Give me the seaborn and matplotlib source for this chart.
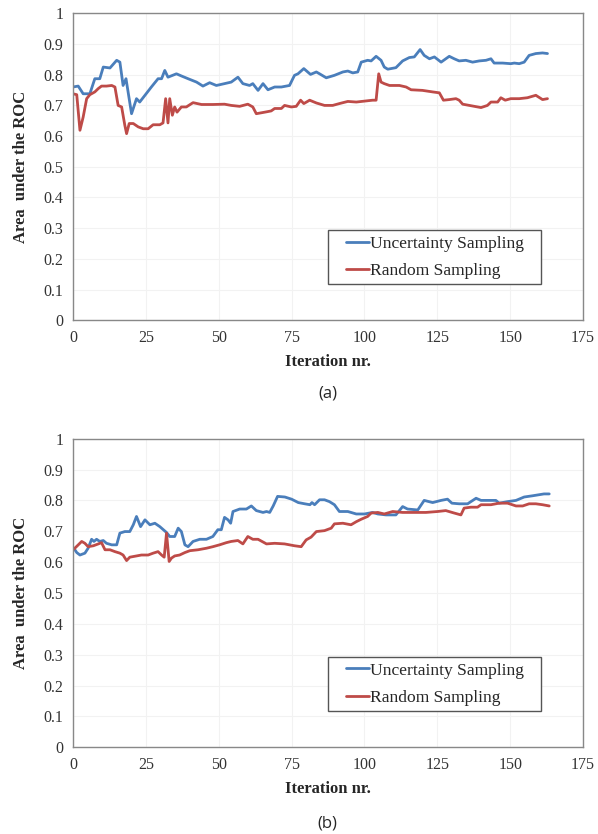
import pandas as pd
import matplotlib.pyplot as plt
import seaborn as sns
from matplotlib.patches import Rectangle

# (a) uncertainty sampling
a_unc_x = [0, 1.8, 3.5, 5.8, 7.5, 9.2, 10.4, 12.7, 15, 16.1, 17.2, 18.2, 20.1, 21.8, 22.9, 24.7,
           26.9, 29.2, 30.4, 31.5, 32.6, 35.5, 37.2, 39.5, 42.4, 44.6, 46.9, 49.2, 52, 54.3, 56.6,
           58.3, 60.6, 61.7, 63.5, 65.2, 66.9, 69.2, 71.5, 74.3, 76, 77.2, 79.2, 81.5, 83.5, 84.6,
           86.9, 89.7, 92.6, 94.3, 96, 97.7, 98.9, 101.1, 102.3, 104, 105.7, 106.8, 108, 110.8,
           113.1, 115.4, 117.1, 119.1, 120.5, 122.3, 124, 126.3, 129.1, 130.8, 132.5, 134.8, 137.1,
           139.4, 141.7, 143.4, 144.5, 147.4, 150.2, 151.4, 153.1, 154.8, 156.5, 158.8, 161.1, 162.8]
a_unc_y = [0.76, 0.763, 0.738, 0.738, 0.787, 0.787, 0.825, 0.822, 0.847, 0.841, 0.765, 0.787, 0.673,
           0.722, 0.711, 0.733, 0.76, 0.787, 0.787, 0.814, 0.792, 0.803, 0.796, 0.787, 0.776, 0.763,
           0.774, 0.765, 0.771, 0.776, 0.792, 0.771, 0.765, 0.771, 0.749, 0.771, 0.751, 0.76, 0.76,
           0.765, 0.798, 0.803, 0.82, 0.801, 0.809, 0.803, 0.79, 0.798, 0.809, 0.812, 0.806, 0.809,
           0.841, 0.847, 0.845, 0.86, 0.847, 0.825, 0.818, 0.823, 0.845, 0.856, 0.858, 0.882, 0.863,
           0.852, 0.858, 0.841, 0.86, 0.852, 0.845, 0.847, 0.841, 0.845, 0.847, 0.852, 0.838, 0.838,
           0.836, 0.838, 0.836, 0.841, 0.863, 0.869, 0.871, 0.869]

# (a) random sampling
a_rnd_x = [0, 1.3, 2.4, 3.5, 4.7, 5.8, 7.5, 8.7, 9.8, 11.5, 13.3, 14.4, 15.5, 16.7, 17.8, 18.4,
           19.3, 20.7, 22.4, 24.1, 25.8, 27.5, 29.8, 30.9, 31.8, 32.6, 33.2, 34.1, 34.9, 35.7, 37.2,
           38.9, 41.2, 44.1, 48, 52, 54.3, 57.2, 60, 61.7, 62.9, 65.8, 68, 69.2, 71.5, 72.6, 74.9,
           76.6, 78.1, 79.2, 81.2, 83.5, 86.3, 89.1, 91.4, 94.3, 97.2, 100, 102.8, 104, 104.9, 105.7,
           106.8, 108.6, 112, 114.3, 116, 119.9, 123.4, 125.7, 127.1, 129.1, 131.4, 132.5, 133.7,
           136, 137.7, 140, 142.2, 143.4, 145.7, 146.8, 148.3, 150.2, 153.1, 155.9, 158.8, 161.1, 162.8]
a_rnd_y = [0.738, 0.735, 0.619, 0.662, 0.722, 0.735, 0.744, 0.755, 0.763, 0.763, 0.765, 0.76, 0.7,
           0.695, 0.635, 0.608, 0.641, 0.641, 0.63, 0.624, 0.624, 0.637, 0.637, 0.643, 0.722, 0.643,
           0.722, 0.668, 0.695, 0.678, 0.695, 0.695, 0.709, 0.703, 0.703, 0.704, 0.7, 0.697, 0.704,
           0.695, 0.673, 0.678, 0.682, 0.69, 0.69, 0.7, 0.695, 0.697, 0.717, 0.706, 0.717, 0.708, 0.7,
           0.7, 0.706, 0.713, 0.711, 0.714, 0.717, 0.717, 0.803, 0.776, 0.771, 0.765, 0.765, 0.76,
           0.751, 0.749, 0.744, 0.741, 0.717, 0.719, 0.722, 0.717, 0.704, 0.7, 0.697, 0.693, 0.7,
           0.711, 0.711, 0.725, 0.717, 0.722, 0.722, 0.725, 0.733, 0.719, 0.722]

# (b) uncertainty sampling
b_unc_x = [0.3, 1.3, 2.4, 4.1, 5.2, 6.4, 7.2, 8.1, 9.2, 10.4, 11.5, 13.3, 15, 16.1, 17.8, 19.5,
           20.7, 21.8, 23.2, 24.7, 26.4, 28.1, 29.8, 32.1, 33.2, 34.9, 36.1, 37.2, 38.4, 39.5, 41.2,
           43.5, 45.8, 48, 49.7, 50.9, 52, 53.2, 54.1, 54.9, 57.2, 59.5, 61.2, 62.9, 65.2, 66.4,
           67.5, 68.7, 70.2, 72.7, 75, 77.3, 79.5, 81.3, 82, 82.9, 84.6, 86.3, 88, 89.7, 91.4, 94.3,
           97.2, 100, 102.8, 104.6, 107.4, 110.8, 113.1, 114.8, 118.3, 120.5, 123.4, 126.3, 128.5,
           130, 132.5, 135.4, 138.3, 140, 142.8, 145.1, 146.2, 149.1, 152, 154.8, 157.7, 161.6, 163.4]
b_unc_y = [0.645, 0.631, 0.623, 0.629, 0.645, 0.674, 0.667, 0.674, 0.667, 0.67, 0.661, 0.656, 0.656,
           0.694, 0.699, 0.699, 0.721, 0.748, 0.715, 0.737, 0.721, 0.726, 0.715, 0.696, 0.683, 0.683,
           0.71, 0.699, 0.656, 0.65, 0.667, 0.674, 0.674, 0.683, 0.705, 0.705, 0.745, 0.737, 0.726,
           0.764, 0.772, 0.772, 0.782, 0.767, 0.761, 0.764, 0.761, 0.782, 0.813, 0.811, 0.804, 0.793,
           0.789, 0.786, 0.793, 0.786, 0.802, 0.802, 0.796, 0.786, 0.764, 0.764, 0.756, 0.756, 0.761,
           0.756, 0.753, 0.753, 0.78, 0.772, 0.769, 0.8, 0.793, 0.8, 0.804, 0.791, 0.789, 0.789,
           0.807, 0.8, 0.8, 0.8, 0.791, 0.796, 0.8, 0.811, 0.815, 0.821, 0.821]

# (b) random sampling
b_rnd_x = [0.3, 1.5, 3, 4.1, 5.2, 7, 8.7, 9.8, 11, 12.7, 14.4, 16.1, 17.2, 18.4, 19.5, 21.8, 23.5,
           25.8, 27.5, 29.2, 30.4, 31.3, 32.1, 33, 33.8, 34.9, 36.6, 38.4, 40.1, 42.9, 45.8, 48,
           50.3, 52.6, 54.3, 56.6, 58.3, 60, 61.7, 63.5, 66.4, 69.2, 72.6, 76, 78.3, 80, 81.7, 83.5,
           86.3, 88.6, 89.7, 92.6, 95.4, 97.2, 98.9, 101.1, 102.3, 104.6, 106.8, 109.7, 113.1,
           116.5, 121.1, 125.1, 127.9, 130.8, 133.1, 134.2, 136.5, 138.8, 140, 143.4, 146.2, 149.1,
           152, 154.3, 156.5, 158.8, 161.1, 163.4]
b_rnd_y = [0.642, 0.653, 0.667, 0.661, 0.65, 0.653, 0.659, 0.663, 0.64, 0.64, 0.634, 0.629, 0.623,
           0.605, 0.616, 0.62, 0.623, 0.623, 0.629, 0.634, 0.623, 0.616, 0.694, 0.602, 0.613, 0.62,
           0.623, 0.631, 0.637, 0.64, 0.645, 0.65, 0.656, 0.663, 0.667, 0.67, 0.659, 0.683, 0.674,
           0.674, 0.659, 0.661, 0.659, 0.653, 0.65, 0.672, 0.681, 0.699, 0.702, 0.71, 0.724, 0.726,
           0.721, 0.731, 0.739, 0.748, 0.759, 0.761, 0.756, 0.764, 0.761, 0.761, 0.761, 0.764, 0.767,
           0.759, 0.753, 0.775, 0.778, 0.778, 0.786, 0.786, 0.791, 0.791, 0.782, 0.782, 0.789, 0.789,
           0.786, 0.782]

series_names = ["Uncertainty Sampling", "Random Sampling"]
colors = {"Uncertainty Sampling": "#4a7ebb", "Random Sampling": "#be4b48"}
x_ticks = [0, 25, 50, 75, 100, 125, 150, 175]
y_ticks = [0, 0.1, 0.2, 0.3, 0.4, 0.5, 0.6, 0.7, 0.8, 0.9, 1]
y_tick_labels = ["0", "0.1", "0.2", "0.3", "0.4", "0.5", "0.6", "0.7", "0.8", "0.9", "1"]


def make_df(unc_x, unc_y, rnd_x, rnd_y):
    d1 = pd.DataFrame({"iter": unc_x, "auc": unc_y, "method": series_names[0]})
    d2 = pd.DataFrame({"iter": rnd_x, "auc": rnd_y, "method": series_names[1]})
    return pd.concat([d1, d2], ignore_index=True)


sns.set_style("white")
plt.rcParams["font.family"] = ["Liberation Serif", "DejaVu Serif"]

fig = plt.figure(figsize=(5.98, 8.34), dpi=100)
ax_a = fig.add_axes([0.122, 0.616, 0.853, 0.368])
ax_b = fig.add_axes([0.122, 0.104, 0.853, 0.370])

panels = [
    (ax_a, make_df(a_unc_x, a_unc_y, a_rnd_x, a_rnd_y), "(a)", 0.528),
    (ax_b, make_df(b_unc_x, b_unc_y, b_rnd_x, b_rnd_y), "(b)", 0.013),
]

for ax, df, tag, tag_y in panels:
    sns.lineplot(data=df, x="iter", y="auc", hue="method", hue_order=series_names,
                 palette=colors, estimator=None, linewidth=2.0, ax=ax)
    ax.set_xlim(0, 175)
    ax.set_ylim(0, 1)
    ax.set_xticks(x_ticks)
    ax.set_yticks(y_ticks)
    ax.set_yticklabels(y_tick_labels)
    ax.grid(True, color="#f2f2f2", linewidth=0.8)
    for s in ax.spines.values():
        s.set_color("#888888")
        s.set_linewidth(1.0)
    ax.tick_params(direction="inout", length=6, width=1, color="#888888",
                   labelsize=11.5, labelcolor="#333333", pad=4)
    ax.set_xlabel("Iteration nr.", fontsize=12, fontweight="bold", labelpad=6)
    ax.set_ylabel("Area  under the ROC", fontsize=12, fontweight="bold", labelpad=10)

    # legend box drawn separately to get the wide padding of the original
    ax.add_patch(Rectangle((0.5, 0.117), 0.417, 0.176, transform=ax.transAxes,
                           facecolor="white", edgecolor="#555555", linewidth=1.0, zorder=4))
    leg = ax.legend(loc="center left", bbox_to_anchor=(0.535, 0.205), fontsize=12.6,
                    frameon=False, handlelength=1.3, handletextpad=0.1,
                    borderpad=0, labelspacing=0.62, borderaxespad=0)
    leg.set_zorder(5)
    fig.text(0.548, tag_y, tag, ha="center", va="center", fontsize=12,
             family=["Open Sans", "DejaVu Sans"])

fig.savefig("out.png", dpi=100)
plt.close(fig)
